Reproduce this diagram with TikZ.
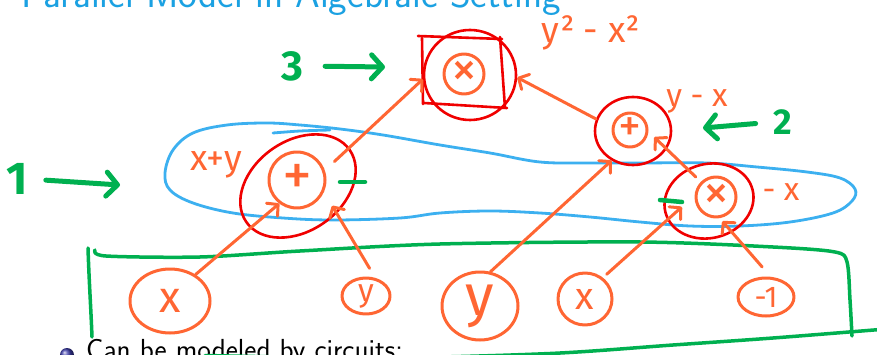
\documentclass[tikz,border=0pt]{standalone}
\usepackage{fontspec}
\usetikzlibrary{arrows.meta,shapes.geometric}
\newfontfamily\hand{Fira Sans}
\newcommand{\fsz}[1]{\fontsize{#1}{#1}\selectfont}
\definecolor{orng}{RGB}{255,102,51}
\definecolor{rd}{RGB}{240,0,0}
\definecolor{grn}{RGB}{0,176,80}
\definecolor{blu}{RGB}{60,176,240}
\definecolor{ttl}{RGB}{27,161,226}
\begin{document}
\begin{tikzpicture}[x=1pt,y=-1pt, line cap=round, line join=round,
 opnode/.style={circle, draw=orng, line width=3pt, inner sep=0pt, text=orng},
 inp/.style={ellipse, draw=orng, line width=3pt, inner sep=0pt, text=orng},
 ring/.style={ellipse, draw=rd, line width=2.6pt, inner sep=0pt},
 wire/.style={draw=orng, line width=3pt, -{Straight Barb[length=8pt,width=17pt,round]}},
 gline/.style={draw=grn, line width=5pt},
 garr/.style={gline, -{Straight Barb[length=11pt,width=24pt,round]}},
 lbl/.style={text=orng, inner sep=0pt},
 gtxt/.style={text=grn, inner sep=0pt}]
\useasboundingbox (0,0) rectangle (877,355);
\clip (0,0) rectangle (877,355);
\fill[white] (0,0) rectangle (877,355);

% title and bullet text
\node[anchor=base west, inner sep=0pt, text=ttl, font=\sffamily\fsz{39.5}] (title) at (21,8) {Parallel Model in Algebraic Setting};
\node[anchor=base west, inner sep=0pt, font=\sffamily\fsz{29}] (bul) at (86,359) {Can be modeled by circuits:};
\shade[ball color={rgb,255:red,60;green,60;blue,170}] (67,355) circle (7);

% green bracket
\draw[grn, line width=3.5pt] (88,248) .. controls (89,280) and (91,310) .. (92,337);
\draw[grn, line width=3.5pt] plot[smooth] coordinates {(95,250) (106,256) (200,257) (300,251) (440,244) (640,242) (773,247) (835,252) (847,262) (850,300) (852,336)};
\draw[grn, line width=3.5pt] plot[smooth] coordinates {(205,355.5) (380,358) (550,353.5) (673,345) (773,338) (880,329.5)};

% blue loop
\draw[blu, line width=2.8pt] plot[smooth cycle, tension=0.6] coordinates {(165,173) (173,150) (193,133) (227,125) (267,123) (300,125) (340,129) (383,135) (440,145) (490,153) (540,162) (590,163) (640,163) (707,163) (757,167) (807,172) (840,178) (855,189) (852,201) (833,213) (790,222) (740,226) (690,226) (640,222) (590,217) (540,213) (490,211) (440,213) (400,218) (333,220) (283,218) (233,213) (193,203) (170,190)};
\draw[blu, line width=2.8pt] plot[smooth] coordinates {(273,133) (300,131) (330,130)};

% red box
\draw[rd, line width=2.6pt] (418,36) -- (502,39);
\draw[rd, line width=2.6pt] (500,37) -- (505,108);
\draw[rd, line width=2.6pt] (424,103) -- (507,108);
\draw[rd, line width=2.6pt] (422,38) -- (423,104);

% operation nodes and red rings
\node[opnode, minimum size=40pt, font=\hand\fsz{52}] (m3) at (464,74) {×};
\node[ring, minimum width=92pt, minimum height=90pt] (r3) at (470,75) {};
\node[opnode, minimum size=34pt, font=\hand\fsz{46}] (p2) at (630,130) {+};
\node[ring, minimum width=76pt, minimum height=68pt] (rp2) at (633,131) {};
\node[opnode, minimum size=56pt, font=\hand\fsz{60}] (p1) at (297,180) {+};
\node[ring, minimum width=126pt, minimum height=90pt, rotate=35] (rp1) at (298,186) {};
\node[opnode, minimum size=40pt, font=\hand\fsz{52}] (m1) at (716,197) {×};
\node[ring, minimum width=90pt, minimum height=74pt, rotate=15] (rm1) at (709,201) {};

% inputs
\node[inp, minimum width=80pt, minimum height=64pt, font=\hand\fsz{44}] (ix) at (170,301) {x};
\node[inp, minimum width=48pt, minimum height=36pt, font=\hand\fsz{32}] (iy1) at (366,296) {y};
\node[inp, minimum width=76pt, minimum height=68pt, font=\hand\fsz{58}] (iy2) at (480,306) {y};
\node[inp, minimum width=54pt, minimum height=52pt, font=\hand\fsz{38}] (ix2) at (585,299) {x};
\node[inp, minimum width=56pt, minimum height=38pt, font=\hand\fsz{30}] (im1) at (766,297) {-1};

% labels
\node[lbl, font=\hand\fsz{36}] (lxy) at (216,165) {x+y};
\node[lbl, font=\hand\fsz{32}] (lyx) at (697,101) {y - x};
\node[lbl, font=\hand\fsz{36}] (lsq) at (591,33) {y² - x²};
\node[lbl, font=\hand\fsz{32}] (lnx) at (781,192) {- x};

% green level markers
\node[gtxt, font=\hand\bfseries\fsz{42}] (n3) at (292,66) {3};
\coordinate (t3) at (385,67);
\draw[garr, shorten <=22pt] (n3.east) -- (t3);
\node[gtxt, font=\hand\bfseries\fsz{46}] (n1) at (17,179) {1};
\coordinate (t1) at (120,185);
\draw[garr, shorten <=18pt] (n1.east) -- (t1);
\node[gtxt, font=\hand\bfseries\fsz{36}] (n2) at (783,122) {2};
\coordinate (t2) at (703,128);
\draw[garr, shorten <=18pt] (n2.west) -- (t2);
\draw[gline, line width=4.5pt] (340,182) -- (365,182);
\draw[gline, line width=4.5pt] (660,200) -- (682,202);

% wires
\draw[wire] (ix.46) -- (p1.-127);
\draw[wire, shorten <=11pt, shorten >=16pt] (iy1.63) -- (p1.-24);
\draw[wire] (iy2.73) -- (rp2.-126);
\draw[wire, shorten <=5pt, shorten >=17pt] (ix2.50) -- (m1.176);
\draw[wire, shorten <=13pt, shorten >=4pt] (im1.77) -- (m1.-80);
\draw[wire, shorten <=13pt] (p1.19) -- (r3.185);
\draw[wire, shorten <=7pt, shorten >=8pt] (m1.135) -- (p2.-5);
\draw[wire] (rp2.162) -- (r3.-3);
\end{tikzpicture}
\end{document}
